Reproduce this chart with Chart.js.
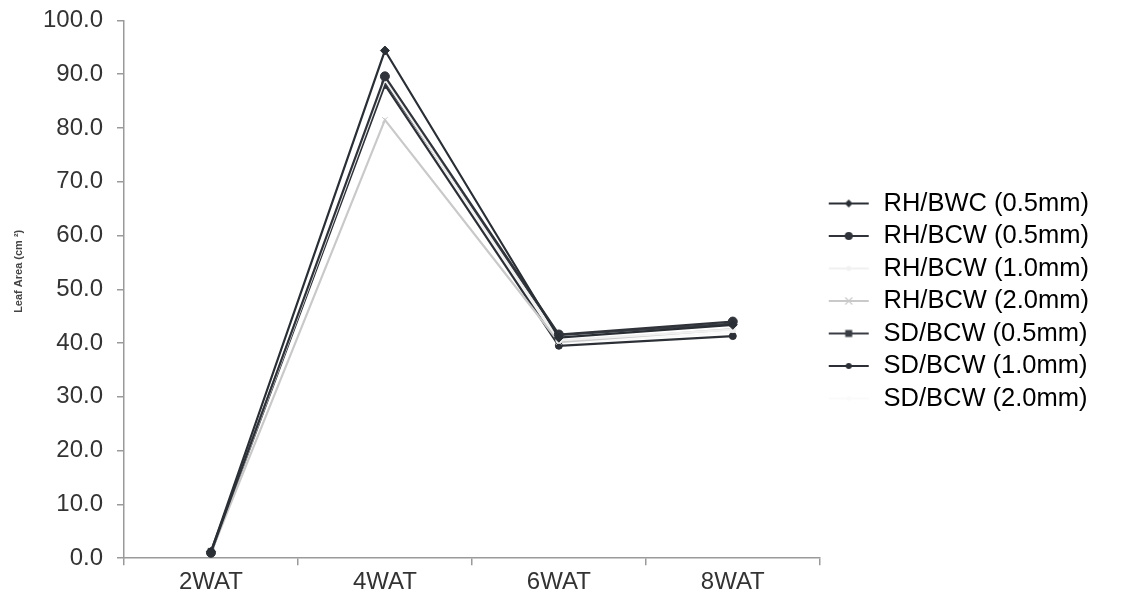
<!DOCTYPE html>
<html>
<head>
<meta charset="utf-8">
<script src="https://cdn.jsdelivr.net/npm/chart.js@4.4.1/dist/chart.umd.min.js"></script>
<style>
  html, body { margin: 0; padding: 0; background: #fff; }
  #wrap { width: 1128px; height: 605px; }
</style>
</head>
<body>
<div id="wrap"><canvas id="lineChart" width="1128" height="605"></canvas></div>
<script>
var weeks = ['2WAT', '4WAT', '6WAT', '8WAT'];

var rhBwc05 = [1.2, 94.4, 41.0, 43.4];
var rhBcw05 = [1.0, 89.6, 41.6, 44.0];
var rhBcw10 = [1.0, 89.0, 40.5, 42.5];
var rhBcw20 = [1.0, 81.5, 40.2, 42.6];
var sdBcw05 = [1.3, 88.6, 41.5, 43.6];
var sdBcw10 = [1.0, 88.0, 39.5, 41.3];
var sdBcw20 = [1.0, 89.0, 40.0, 42.0];

var seriesNames = ['RH/BWC (0.5mm)', 'RH/BCW (0.5mm)', 'RH/BCW (1.0mm)', 'RH/BCW (2.0mm)',
                   'SD/BCW (0.5mm)', 'SD/BCW (1.0mm)', 'SD/BCW (2.0mm)'];
var seriesData = [rhBwc05, rhBcw05, rhBcw10, rhBcw20, sdBcw05, sdBcw10, sdBcw20];
var seriesColor = ['#2a2f35', '#30343a', '#f0f0f0', '#c9c9c9', '#3a3e44', '#2c3036', '#fafafa'];
var seriesMarker = ['rectRot', 'circle', 'circle', 'crossRot', 'rect', 'circle', 'circle'];
var seriesRadius = [4.5, 4.5, 3, 4, 4, 3.5, 3];

var yTitle = 'Leaf Area (cm ²)';

// small legend sample: line with marker in the middle
function legendSample(color, marker, r) {
    var c = document.createElement('canvas');
    c.width = 44; c.height = 14;
    var g = c.getContext('2d');
    g.strokeStyle = color; g.fillStyle = color; g.lineWidth = 2;
    g.beginPath(); g.moveTo(2, 7); g.lineTo(42, 7); g.stroke();
    g.beginPath();
    if (marker === 'rectRot') {
        g.moveTo(22, 7 - r); g.lineTo(22 + r, 7); g.lineTo(22, 7 + r); g.lineTo(22 - r, 7);
        g.closePath(); g.fill();
    } else if (marker === 'rect') {
        g.fillRect(22 - r, 7 - r, 2 * r, 2 * r);
    } else if (marker === 'crossRot') {
        g.lineWidth = 1.2;
        g.moveTo(22 - r, 7 - r); g.lineTo(22 + r, 7 + r);
        g.moveTo(22 + r, 7 - r); g.lineTo(22 - r, 7 + r); g.stroke();
    } else {
        g.arc(22, 7, r, 0, Math.PI * 2); g.fill();
    }
    return c;
}

var datasets = seriesNames.map(function (name, i) {
    return {
        label: name,
        data: seriesData[i],
        borderColor: seriesColor[i],
        backgroundColor: seriesColor[i],
        borderWidth: 2.2,
        pointStyle: seriesMarker[i],
        pointRadius: seriesRadius[i],
        pointBorderWidth: 1,
        tension: 0
    };
});

// small bold y title, sits a bit above the middle of the axis like the original
var yTitlePlugin = {
    id: 'yTitle',
    afterDraw: function (chart) {
        var c = chart.ctx, a = chart.chartArea;
        c.save();
        c.fillStyle = '#444';
        c.font = 'bold 11px "Liberation Sans", Arial';
        c.textAlign = 'center';
        c.textBaseline = 'middle';
        c.translate(19, (a.top + a.bottom) / 2 - 18);
        c.rotate(-Math.PI / 2);
        c.fillText(yTitle, 0, 0);
        c.restore();
    }
};

var ctx = document.getElementById('lineChart').getContext('2d');
var myChart = new Chart(ctx, {
    type: 'line',
    data: { labels: weeks, datasets: datasets },
    plugins: [yTitlePlugin],
    options: {
        responsive: false,
        animation: false,
        // left side kept at 0 so the legend is not capped; y axis width is fixed below
        layout: { padding: { top: 2, left: 0, right: 35, bottom: 5 } },
        plugins: {
            tooltip: { enabled: false },
            legend: {
                position: 'right',
                labels: {
                    usePointStyle: true,
                    pointStyleWidth: 44,
                    padding: 7,
                    color: '#333',
                    font: { family: 'Liberation Sans, Arial', size: 25.5 },
                    generateLabels: function (chart) {
                        return chart.data.datasets.map(function (ds, i) {
                            return {
                                text: ds.label,
                                fillStyle: ds.borderColor,
                                strokeStyle: ds.borderColor,
                                lineWidth: 0,
                                pointStyle: legendSample(seriesColor[i], seriesMarker[i], seriesRadius[i] - 0.5),
                                datasetIndex: i,
                                hidden: false
                            };
                        });
                    }
                }
            }
        },
        scales: {
            x: {
                offset: true,
                grid: { offset: true, drawOnChartArea: false, color: '#9a9a9a', tickLength: 7, lineWidth: 1.5 },
                border: { color: '#9a9a9a', width: 1.5 },
                ticks: { color: '#333', padding: 3, font: { family: 'Liberation Sans, Arial', size: 24 } }
            },
            y: {
                min: 0,
                max: 100,
                afterFit: function (scale) {
                    scale.width = 124;
                    // label padding also pads the top of the axis; take that back
                    scale.paddingTop -= 8;
                    scale.paddingBottom -= 8;
                },
                grid: { drawOnChartArea: false, color: '#9a9a9a', tickLength: 7, lineWidth: 1.5 },
                border: { color: '#9a9a9a', width: 1.5 },
                ticks: {
                    stepSize: 10,
                    color: '#333',
                    padding: 14,
                    font: { family: 'Liberation Sans, Arial', size: 24 },
                    callback: function (v) { return v.toFixed(1); }
                }
            }
        }
    }
});
</script>
</body>
</html>
